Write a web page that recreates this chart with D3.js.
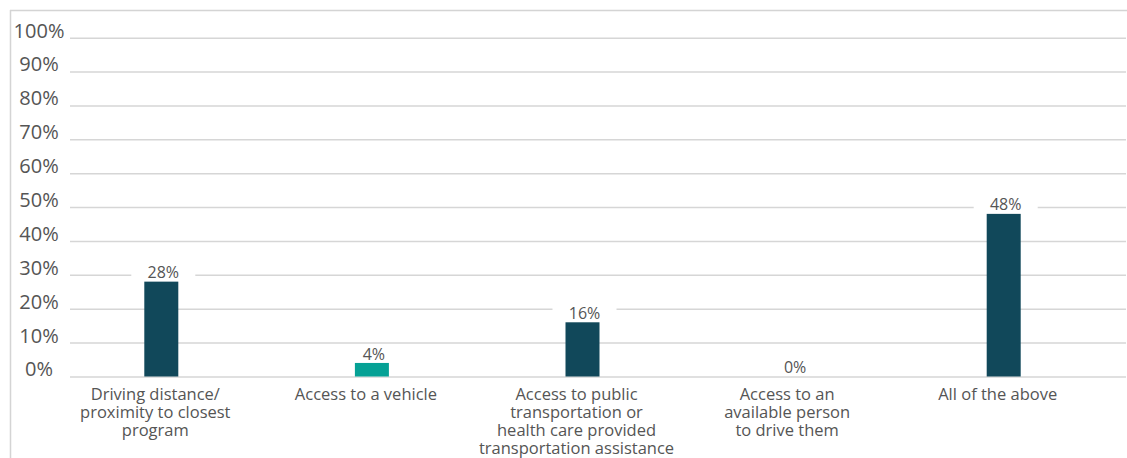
<!DOCTYPE html>
<html>
<head>
<meta charset="utf-8">
<script src="https://cdn.jsdelivr.net/npm/d3@7"></script>
<style>
  html, body { margin: 0; padding: 0; background: #fff; }
  svg { display: block; font-family: "Open Sans", "Noto Sans", sans-serif; }
</style>
</head>
<body>
<svg id="chart" width="1127" height="458"></svg>
<script>
// Transportation barriers: share of respondents per option
const categories = [
  ["Driving distance/", "proximity to closest", "program"],
  ["Access to a vehicle"],
  ["Access to public", "transportation or", "health care provided", "transportation assistance"],
  ["Access to an", "available person", "to drive them"],
  ["All of the above"]
];
const values = [28, 4, 16, 0, 48];
const valueLabels = ["28%", "4%", "16%", "0%", "48%"];
const barColors = ["#11485a", "#05a195", "#11485a", "#11485a", "#11485a"];
const yTicks = [0, 10, 20, 30, 40, 50, 60, 70, 80, 90, 100];

const svg = d3.select("#chart");
const W = 1127, H = 458;

// outer frame (top and left edges)
svg.append("line").attr("x1", 10).attr("x2", W).attr("y1", 10.5).attr("y2", 10.5)
  .attr("stroke", "#d4d4d4").attr("stroke-width", 1.5);
svg.append("line").attr("x1", 10.5).attr("x2", 10.5).attr("y1", 10).attr("y2", H)
  .attr("stroke", "#d4d4d4").attr("stroke-width", 1.5);

const y = d3.scaleLinear().domain([0, 100]).range([376.5, 37.7]);
const x = d3.scaleBand().domain(d3.range(categories.length)).range([56, 1109]).paddingInner(0).paddingOuter(0);
const barW = 34;

// gridlines
const grid = svg.append("g").attr("transform", "translate(70,0)")
  .call(d3.axisRight(y).tickValues(yTicks).tickSize(1056).tickFormat(""));
grid.select(".domain").remove();
grid.selectAll(".tick line").attr("stroke", "#d6d6d6").attr("stroke-width", 1.5);

// y axis labels, centred in the left margin and lifted above their gridlines
const yAxis = svg.append("g").attr("transform", "translate(39,-7)")
  .call(d3.axisLeft(y).tickValues(yTicks).tickSize(0).tickPadding(0).tickFormat(d => d + "%"));
yAxis.select(".domain").remove();
yAxis.selectAll(".tick text")
  .attr("text-anchor", "middle")
  .attr("x", 0)
  .attr("fill", "#555")
  .style("font-size", "20px")
  .style("font-family", "'Open Sans', sans-serif");

// bars
svg.append("g").selectAll("rect").data(values).join("rect")
  .attr("x", (d, i) => x(i) + x.bandwidth() / 2 - barW / 2)
  .attr("y", d => y(d))
  .attr("width", barW)
  .attr("height", d => y(0) - y(d))
  .attr("fill", (d, i) => barColors[i]);

// value labels with a white backing that breaks the gridline
const vl = svg.append("g").selectAll("g").data(values).join("g")
  .attr("transform", (d, i) => `translate(${x(i) + x.bandwidth() / 2 + 2},${y(d) - 9})`);
vl.append("rect")
  .attr("x", -32).attr("y", -9).attr("width", 64).attr("height", 15)
  .attr("fill", "#fff")
  .attr("opacity", (d) => d > 0 ? 1 : 0);
vl.append("text")
  .attr("text-anchor", "middle")
  .attr("dy", "0.35em")
  .attr("fill", "#555")
  .style("font-size", "16px")
  .text((d, i) => valueLabels[i]);

// category labels
const cl = svg.append("g").selectAll("text").data(categories).join("text")
  .attr("text-anchor", "middle")
  .attr("fill", "#555")
  .style("font-size", "16.5px")
  .attr("transform", (d, i) => `translate(${x(i) + x.bandwidth() / 2 - 6},400)`);
cl.selectAll("tspan").data(d => d).join("tspan")
  .attr("x", 0)
  .attr("dy", (d, j) => j === 0 ? 0 : 18)
  .text(d => d);
</script>
</body>
</html>
